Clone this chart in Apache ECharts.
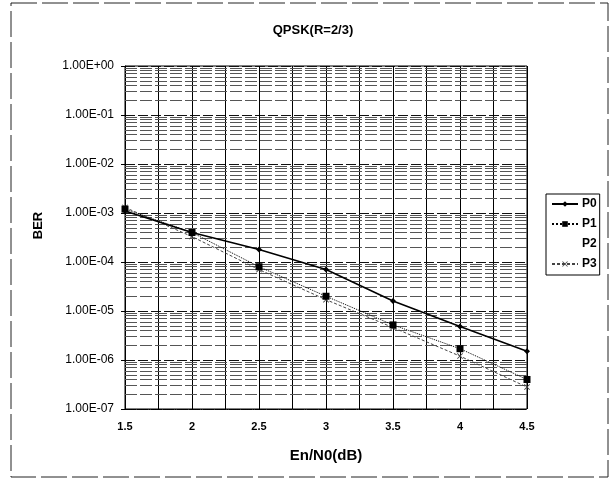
<!DOCTYPE html>
<html><head><meta charset="utf-8">
<script src="https://cdn.jsdelivr.net/npm/echarts@6/dist/echarts.min.js"></script>
<style>html,body{margin:0;padding:0;background:#fff}#c{width:612px;height:480px}</style>
</head><body><div id="c"></div>
<script>
// ---- data ----
const xValues = [1.5, 2, 2.5, 3, 3.5, 4, 4.5];
const P0 = [1.1e-3, 4.0e-4, 1.8e-4, 7.0e-5, 1.6e-5, 4.8e-6, 1.5e-6];
const P1 = [1.2e-3, 4.0e-4, 8.0e-5, 2.0e-5, 5.2e-6, 1.7e-6, 4.0e-7];
const P2 = [];
const P3 = [1.3e-3, 3.3e-4, 7.0e-5, 1.7e-5, 4.6e-6, 1.2e-6, 2.8e-7];
const yTickLabels = ['1.00E-07','1.00E-06','1.00E-05','1.00E-04','1.00E-03','1.00E-02','1.00E-01','1.00E+00'];
const seriesNames = ['P0','P1','P2','P3'];

const pairs = arr => arr.map((v, i) => [xValues[i], v]);
const FONT = '"Liberation Sans", Arial, sans-serif';
const crossPath = 'path://M0,1 L1,0 L5,4 L9,0 L10,1 L6,5 L10,9 L9,10 L5,6 L1,10 L0,9 L4,5 Z';

// log minor grid lines (2..9 per decade), drawn through the axes
const minorLines = [];
for (let e = -7; e < 0; e++) for (let m = 2; m <= 9; m++) {
  const v = m * Math.pow(10, e);
  minorLines.push({ coords: [[xValues[0], v], [xValues[xValues.length - 1], v]] });
}

const chart = echarts.init(document.getElementById('c'), null, { renderer: 'canvas' });
chart.setOption({
  animation: false,
  backgroundColor: '#fff',
  title: {
    text: 'QPSK(R=2/3)', left: 308, top: 19, textAlign: 'center',
    textStyle: { fontFamily: FONT, fontSize: 13, fontWeight: 'bold', color: '#000' }
  },
  legend: {
    orient: 'vertical', left: 546, top: 194,
    data: [
      { name: 'P0' }, { name: 'P1' }, { name: 'P2', icon: 'none' }, { name: 'P3' }
    ],
    itemWidth: 26, itemHeight: 7, itemGap: 8,
    padding: [4, 3, 5, 5],
    borderColor: '#000', borderWidth: 1,
    textStyle: { fontFamily: FONT, fontSize: 12, fontWeight: 'bold', color: '#000', padding: [0,0,0,-1] }
  },
  graphic: [{
    type: 'rect', shape: { x: 11, y: 3, width: 597, height: 474 },
    style: { fill: 'none', stroke: '#222', lineWidth: 1, lineDash: [26, 5] }, silent: true, z: -1
  }],
  grid: { left: 125, right: 85, top: 66, bottom: 71, show: true, borderColor: '#000', borderWidth: 1 },
  xAxis: {
    type: 'value', min: 1.5, max: 4.5, interval: 0.5,
    name: 'En/N0(dB)', nameLocation: 'middle', nameGap: 39,
    nameTextStyle: { fontFamily: FONT, fontSize: 15, fontWeight: 'bold', color: '#000' },
    axisLine: { lineStyle: { color: '#000', type: 'dotted' } },
    axisTick: { show: false },
    minorTick: { show: false, splitNumber: 2 },
    splitLine: { show: true, lineStyle: { color: '#000', width: 1 } },
    minorSplitLine: { show: true, lineStyle: { color: '#000', width: 1 } },
    axisLabel: { fontFamily: FONT, fontSize: 11, fontWeight: 'bold', color: '#000', margin: 12,
      formatter: v => String(v) }
  },
  yAxis: {
    type: 'log', logBase: 10, min: 1e-7, max: 1, interval: 1,
    name: 'BER', nameLocation: 'middle', nameGap: 80, nameRotate: 90,
    nameTextStyle: { fontFamily: FONT, fontSize: 13, fontWeight: 'bold', color: '#000', padding: [0, 0, 0, 24] },
    axisLine: { show: true, lineStyle: { color: '#000' } },
    axisTick: { show: true, inside: false, length: 4, lineStyle: { color: '#000' } },
    splitLine: { show: true, lineStyle: { color: '#111', width: 1, type: [10, 3] } },
    axisLabel: { fontFamily: FONT, fontSize: 12, color: '#000', margin: 11,
      formatter: v => { const e = Math.round(Math.log10(v)); return yTickLabels[e + 7] || ''; } }
  },
  series: [
    { name: 'minorGrid', type: 'lines', coordinateSystem: 'cartesian2d', silent: true, z: 1,
      polyline: false, data: minorLines,
      lineStyle: { color: '#555', width: 1, type: [12, 3], opacity: 1 } },
    { name: 'P0', type: 'line', data: pairs(P0), symbol: 'diamond', symbolSize: 6,
      itemStyle: { color: '#000' }, lineStyle: { color: '#000', width: 1.6 }, z: 5 },
    { name: 'P1', type: 'line', data: pairs(P1), symbol: 'rect', symbolSize: 7,
      itemStyle: { color: '#000' }, lineStyle: { color: '#000', width: 1, type: 'dotted' }, z: 5 },
    { name: 'P2', type: 'line', data: P2, symbol: 'none',
      itemStyle: { color: '#fff', opacity: 0 }, lineStyle: { opacity: 0 } },
    { name: 'P3', type: 'line', data: pairs(P3), symbol: crossPath, symbolSize: 6,
      itemStyle: { color: '#444' }, lineStyle: { color: '#444', width: 1, type: [3, 2] }, z: 4 }
  ]
});
</script></body></html>
